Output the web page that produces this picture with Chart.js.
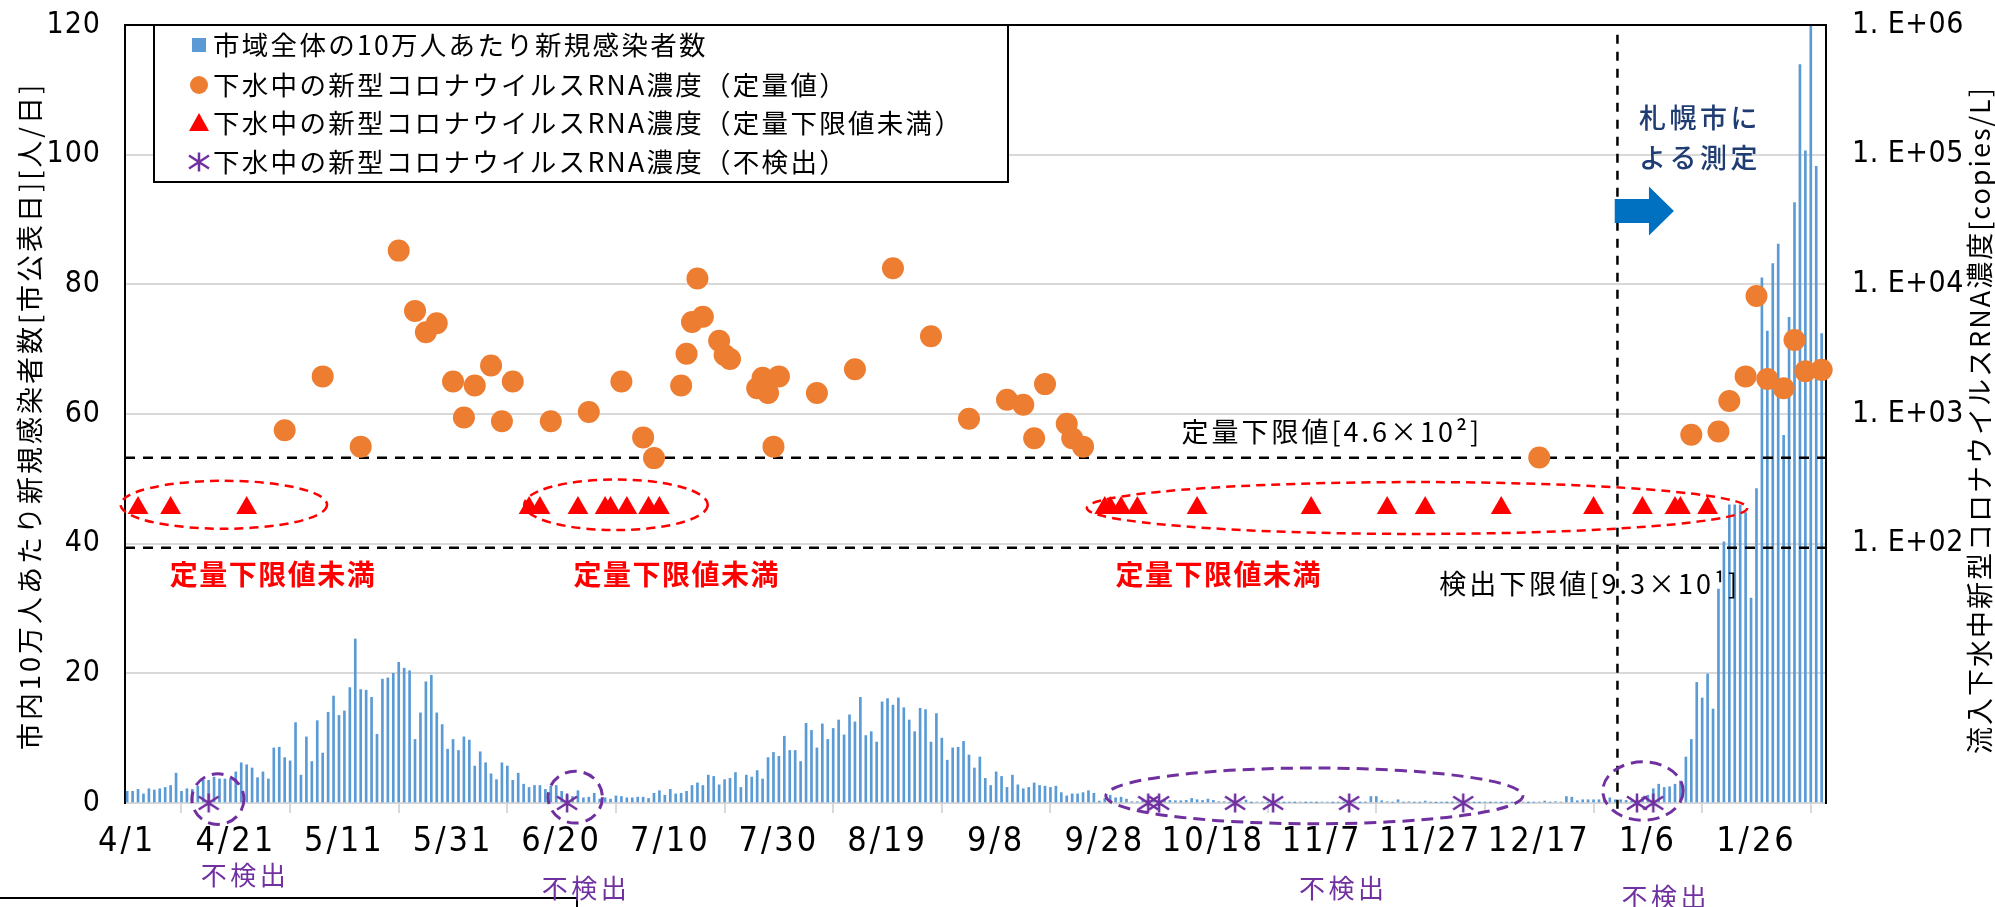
<!DOCTYPE html>
<html>
<head>
<meta charset="utf-8">
<script src="https://cdn.jsdelivr.net/npm/chart.js@4.4.1/dist/chart.umd.min.js"></script>
<style>
  html, body { margin: 0; padding: 0; background: #fff; }
  canvas { display: block; }
</style>
</head>
<body>
<canvas id="chart" width="1995" height="907"></canvas>
<script>
// ── 1. DATA ──
// day 0 = 4/1 (2021), one bar per day up to 2/8 (2022)
const tickDays   = [0, 20, 40, 60, 80, 100, 120, 140, 160, 180, 200, 220, 240, 260, 280, 300];
const tickLabels = ['4/1','4/21','5/11','5/31','6/20','7/10','7/30','8/19','9/8','9/28','10/18','11/7','11/27','12/17','1/6','1/26'];
const leftTicks  = [0, 20, 40, 60, 80, 100, 120];
const rightTicks = [1e2, 1e3, 1e4, 1e5, 1e6];
const rightTickLabels = ['1. E+02', '1. E+03', '1. E+04', '1. E+05', '1. E+06'];

// 市域全体の10万人あたり新規感染者数 (per day)
const newCases = [
  1.8, 1.8, 2.1, 1.4, 2.2, 2.0, 2.2, 2.4, 2.7, 4.6,
  1.8, 2.2, 2.1, 2.6, 3.5, 3.5, 4.0, 3.7, 3.7, 3.7,
  4.8, 6.2, 5.9, 5.4, 3.9, 4.8, 3.7, 8.5, 8.6, 7.0,
  6.5, 12.4, 4.3, 10.2, 6.4, 12.7, 7.7, 14.0, 16.5, 13.5,
  14.2, 17.8, 25.3, 17.5, 17.4, 16.3, 10.6, 19.1, 19.3, 20.0,
  21.7, 20.8, 20.4, 9.8, 13.9, 18.7, 19.7, 13.9, 12.1, 8.3,
  9.8, 8.1, 10.2, 9.7, 5.7, 7.9, 6.2, 4.5, 3.6, 6.2,
  5.7, 3.5, 4.6, 2.9, 2.4, 2.7, 2.7, 2.1, 2.6, 2.7,
  1.8, 1.2, 1.0, 1.9, 0.8, 0.9, 1.5, 0.6, 0.8, 0.6,
  1.1, 1.0, 0.8, 0.8, 0.9, 0.9, 0.7, 1.5, 1.9, 1.2,
  2.1, 1.4, 1.5, 1.8, 2.7, 3.1, 2.7, 4.3, 4.1, 2.8,
  3.6, 3.8, 4.7, 2.4, 4.3, 4.0, 5.0, 3.7, 7.0, 7.8,
  7.2, 10.3, 8.1, 8.1, 6.4, 12.3, 11.2, 8.5, 12.2, 9.8,
  11.5, 12.8, 10.5, 13.6, 12.5, 16.3, 10.4, 11.0, 9.4, 15.6,
  16.1, 15.1, 16.2, 14.7, 12.8, 11.0, 14.6, 14.4, 9.4, 13.8,
  10.0, 6.6, 8.5, 8.6, 9.5, 7.4, 5.4, 7.1, 3.8, 2.7,
  4.8, 4.1, 2.4, 4.3, 2.8, 2.2, 2.4, 3.1, 2.7, 2.6,
  2.4, 2.6, 1.6, 1.1, 1.4, 1.4, 1.6, 1.9, 1.5, 0.3,
  0.7, 1.2, 0.8, 0.9, 0.6, 0.2, 0.2, 0.4, 0.5, 0.4,
  0.3, 0.5, 0.4, 0.35, 0.35, 0.4, 0.7, 0.5, 0.4, 0.6,
  0.4, 0.2, 0.2, 0.1, 0.1, 0.15, 0.45, 0.05, 0.15, 0.15,
  0.05, 0.1, 0.1, 0.05, 0.1, 0.05, 0.15, 0.05, 0.1, 0.05,
  0.15, 0.15, 0.05, 0.1, 0.05, 0.05, 0.1, 0.05, 0.1, 1.0,
  1.0, 0.35, 0.2, 0.1, 0.5, 0.1, 0.2, 0.1, 0.1, 0.3,
  0.1, 0.05, 0.1, 0.05, 0.05, 0.1, 0.05, 0.1, 0.05, 0.05,
  0.1, 0.05, 0.1, 0.05, 0.1, 0.05, 0.1, 0.15, 0.05, 0.1,
  0.15, 0.3, 0.1, 0.2, 0.15, 1.0, 0.9, 0.35, 0.5, 0.5,
  0.5, 0.5, 0.6, 0.8, 0.5, 0.5, 0.4, 0.3, 0.5, 0.9,
  1.2, 2.2, 2.9, 2.4, 2.5, 2.9, 3.4, 7.1, 9.8, 18.6,
  16.2, 19.9, 14.5, 33.0, 40.3, 46.0, 46.0, 46.0, 44.8, 31.6,
  48.5, 81.0, 72.8, 83.2, 86.2, 56.7, 74.9, 92.6, 113.9, 100.6,
  120, 98.2, 72.4
];

// 下水中RNA濃度 (定量値) [copies/L]
const quantDays = [29, 36, 43, 50, 53, 55, 57, 60, 62, 64, 67, 69, 71, 78, 85, 91, 95, 97,
  102, 103, 104, 105, 106, 109, 110, 111, 116, 117, 118, 119, 120, 127, 134, 141, 148,
  155, 162, 165, 167, 169, 173, 174, 176, 260, 288, 293, 295, 298, 300, 302, 305, 307, 309, 312];
const quantConc = [750, 1950, 560, 18200, 6240, 4270, 5010, 1780, 940, 1660, 2370, 880, 1780, 880, 1035, 1780, 660, 457,
  1660, 2920, 5130, 11100, 5620, 3670, 2850, 2660, 1580, 1900, 1450, 560, 1950, 1450, 2210, 13300, 3980,
  920, 1290, 1180, 650, 1700, 840, 650, 560, 462, 692, 733, 1260, 1950, 8130, 1860, 1580, 3720, 2140, 2190];

// 定量下限値未満 (plotted at a fixed level)
const belowDays = [2, 8, 22, 74, 76, 83, 88, 89, 92, 96, 98,
  180, 181, 183, 186, 197, 218, 232, 239, 253, 270, 279, 285, 286, 291];
const belowLevel = 188;

// 不検出 (plotted on the axis)
const notDetDays = [15, 81, 188, 190, 204, 211, 225, 246, 278, 281];
const notDetLevel = 1;

const quantLimit = 460;   // 定量下限値
const detectLimit = 93;   // 検出下限値
const xMin = -0.4, xMax = 312.8;

const seriesLabels = [
  '市域全体の10万人あたり新規感染者数',
  '下水中の新型コロナウイルスRNA濃度（定量値）',
  '下水中の新型コロナウイルスRNA濃度（定量下限値未満）',
  '下水中の新型コロナウイルスRNA濃度（不検出）'
];

const BLUE = '#5b9bd5', ORANGE = '#ed7d31', RED = '#ff0000', PURPLE = '#7030a0', NAVY = '#1f3c73';
const JP = '"Noto Sans CJK JP", "Noto Sans", sans-serif';
const NUM = '"Liberation Sans Narrow", "DejaVu Sans Condensed", "Liberation Sans", sans-serif';

// ── 2. ASTERISK MARKER ──
function makeAsterisk(size, color, lw) {
  const c = document.createElement('canvas');
  c.width = size; c.height = size;
  const g = c.getContext('2d');
  const m = size / 2;
  g.strokeStyle = color;
  g.lineWidth = lw;
  g.beginPath();
  g.moveTo(m, m - 9.5); g.lineTo(m, m + 9.5);
  g.moveTo(m - 10, m - 6.5); g.lineTo(m + 10, m + 6.5);
  g.moveTo(m - 10, m + 6.5); g.lineTo(m + 10, m - 6.5);
  g.stroke();
  return c;
}
const asterisk = makeAsterisk(22, PURPLE, 2.5);

// ── 3. HELPERS ──
function text(ctx, str, x, y, font, color, spacing, align, rotate) {
  ctx.save();
  ctx.font = font;
  ctx.fillStyle = color;
  ctx.letterSpacing = (spacing || 0) + 'px';
  ctx.textAlign = align || 'center';
  ctx.textBaseline = 'middle';
  ctx.translate(x, y);
  if (rotate) ctx.rotate(rotate);
  ctx.fillText(str, 0, 0);
  ctx.restore();
}

// annotation shapes, in data units (day, left-axis value)
const redEllipses = [
  { day: 17.8, val: 46.0, rd: 19.0, rv: 3.7 },
  { day: 90.0, val: 46.0, rd: 16.9, rv: 3.9 },
  { day: 237.5, val: 45.5, rd: 60.8, rv: 4.0 }
];
const purpleEllipses = [
  { day: 16.7, val: 0.6, rd: 4.8, rv: 3.9 },
  { day: 82.5, val: 0.9, rd: 5.0, rv: 4.0 },
  { day: 218.6, val: 1.1, rd: 38.4, rv: 4.3 },
  { day: 279.1, val: 1.85, rd: 7.4, rv: 4.5 }
];
const redNotes = [26.85, 101.2, 201.0];
const notDetNotes = [[21.7, -11.1], [84.5, -13.1], [223.9, -13.1], [283.3, -14.5]];

const decorations = {
  id: 'decorations',
  afterDatasetsDraw(chart) {
    const { ctx, chartArea: a, scales: { x, y, y2 } } = chart;
    const px = d => x.getPixelForValue(d);
    const py = v => y.getPixelForValue(v);

    // frame top
    ctx.save();
    ctx.strokeStyle = '#000';
    ctx.lineWidth = 2;
    ctx.beginPath();
    ctx.moveTo(a.left - 1, a.top); ctx.lineTo(a.right + 1, a.top);
    ctx.stroke();

    // vertical dashed line (札幌市による測定 start)
    ctx.setLineDash([9, 8]);
    ctx.lineWidth = 2.5;
    ctx.beginPath();
    ctx.moveTo(px(274.4), py(118.5)); ctx.lineTo(px(274.4), py(-1.85));
    ctx.stroke();

    // ellipses
    const ell = (e, color, dash, lw) => {
      ctx.strokeStyle = color;
      ctx.setLineDash(dash);
      ctx.lineWidth = lw;
      ctx.beginPath();
      ctx.ellipse(px(e.day), py(e.val), px(e.day + e.rd) - px(e.day), py(e.val - e.rv) - py(e.val), 0, 0, Math.PI * 2);
      ctx.stroke();
    };
    redEllipses.forEach(e => ell(e, RED, [9, 6], 2.5));
    purpleEllipses.forEach(e => ell(e, PURPLE, [12, 7], 3));
    ctx.setLineDash([]);

    // arrow
    ctx.fillStyle = '#0070c0';
    const ay = py(91.3), bh = 12, hh = 24.5;
    ctx.beginPath();
    ctx.moveTo(px(273.9), ay - bh);
    ctx.lineTo(px(280.2), ay - bh);
    ctx.lineTo(px(280.2), ay - hh);
    ctx.lineTo(px(284.8), ay);
    ctx.lineTo(px(280.2), ay + hh);
    ctx.lineTo(px(280.2), ay + bh);
    ctx.lineTo(px(273.9), ay + bh);
    ctx.closePath();
    ctx.fill();

    // bottom-left frame fragment
    ctx.strokeStyle = '#000';
    ctx.lineWidth = 2;
    ctx.beginPath();
    ctx.moveTo(0, 898); ctx.lineTo(577, 898); ctx.lineTo(577, 907);
    ctx.stroke();
    ctx.restore();

    // notes
    text(ctx, '定量下限値[4.6×10²]', px(221.8), py(57.2), '27px ' + JP, '#000', 3);
    text(ctx, '検出下限値[9.3×10¹]', px(269.3), py(33.8), '27px ' + JP, '#000', 3);
    redNotes.forEach(d => text(ctx, '定量下限値未満', px(d), py(35.2), 'bold 28px ' + JP, RED, 1.5));
    notDetNotes.forEach(n => text(ctx, '不検出', px(n[0]), py(n[1]), '26px ' + JP, PURPLE, 3.5));
    text(ctx, '札幌市に', px(289.6), py(105.7), '500 27px ' + JP, NAVY, 3.5);
    text(ctx, 'よる測定', px(289.6), py(99.6), '500 27px ' + JP, NAVY, 3.5);

    // tick labels
    leftTicks.forEach(v => text(ctx, String(v), a.left - 24, py(v), '30px ' + NUM, '#000', 1, 'right'));
    rightTicks.forEach((v, i) => text(ctx, rightTickLabels[i], a.right + 26, y2.getPixelForValue(v), '30px ' + NUM, '#000', 0.5, 'left'));
    tickDays.forEach((d, i) => text(ctx, tickLabels[i], px(d), a.bottom + 39, '34px ' + NUM, '#000', 3));

    // axis titles
    text(ctx, '市内10万人あたり新規感染者数[市公表日][人/日]', 30, 416, '27px ' + JP, '#000', 3, 'center', -Math.PI / 2);
    text(ctx, '流入下水中新型コロナウイルスRNA濃度[copies/L]', 1980, 420, '27px ' + JP, '#000', 2, 'center', -Math.PI / 2);

    // legend box
    const lx = a.left + 29, ly = a.top, lw = 854, lh = 157;
    ctx.save();
    ctx.fillStyle = '#fff';
    ctx.fillRect(lx, ly, lw, lh);
    ctx.strokeStyle = '#000';
    ctx.lineWidth = 2;
    ctx.strokeRect(lx, ly, lw, lh);
    const mx = lx + 45, rows = [ly + 20, ly + 60, ly + 98, ly + 137];
    ctx.fillStyle = BLUE;
    ctx.fillRect(mx - 7, rows[0] - 7, 14, 14);
    ctx.fillStyle = ORANGE;
    ctx.beginPath(); ctx.arc(mx, rows[1], 9, 0, Math.PI * 2); ctx.fill();
    ctx.fillStyle = RED;
    ctx.beginPath();
    ctx.moveTo(mx, rows[2] - 10); ctx.lineTo(mx + 10, rows[2] + 8); ctx.lineTo(mx - 10, rows[2] + 8);
    ctx.closePath(); ctx.fill();
    ctx.drawImage(asterisk, mx - 11, rows[3] - 11);
    ctx.restore();
    seriesLabels.forEach((s, i) => text(ctx, s, mx + 14, rows[i], '26.5px ' + JP, '#000', 2.3, 'left'));
  }
};

// ── 4. CHART ──
new Chart(document.getElementById('chart'), {
  type: 'bar',
  data: {
    datasets: [
      {
        label: seriesLabels[0],
        data: newCases.map((v, i) => ({ x: i, y: v })),
        backgroundColor: BLUE,
        barThickness: 2,
        yAxisID: 'y',
        order: 5
      },
      {
        type: 'line', label: seriesLabels[1],
        data: quantDays.map((d, i) => ({ x: d, y: quantConc[i] })),
        yAxisID: 'y2', showLine: false, clip: false,
        pointRadius: 11, pointBorderWidth: 0,
        pointBackgroundColor: ORANGE, pointBorderColor: ORANGE, order: 1
      },
      {
        type: 'line', label: seriesLabels[2],
        data: belowDays.map(d => ({ x: d, y: belowLevel })),
        yAxisID: 'y2', showLine: false, clip: false,
        pointStyle: 'triangle', pointRadius: 12, pointBorderWidth: 0,
        pointBackgroundColor: RED, pointBorderColor: RED, order: 2
      },
      {
        type: 'line', label: seriesLabels[3],
        data: notDetDays.map(d => ({ x: d, y: notDetLevel })),
        yAxisID: 'y2', showLine: false, clip: false,
        pointStyle: asterisk, pointRadius: 10, order: 0
      },
      {
        type: 'line', label: '定量下限値',
        data: [{ x: xMin, y: quantLimit }, { x: xMax, y: quantLimit }],
        yAxisID: 'y2', borderColor: '#000', borderWidth: 2.5, borderDash: [10, 8],
        pointRadius: 0, order: 3
      },
      {
        type: 'line', label: '検出下限値',
        data: [{ x: xMin, y: detectLimit }, { x: xMax, y: detectLimit }],
        yAxisID: 'y2', borderColor: '#000', borderWidth: 2.5, borderDash: [10, 8],
        pointRadius: 0, order: 3
      }
    ]
  },
  options: {
    responsive: false,
    animation: false,
    devicePixelRatio: 1,
    layout: { padding: { top: 25, left: 0, right: 0, bottom: 0 } },
    plugins: { legend: { display: false }, tooltip: { enabled: false } },
    scales: {
      x: {
        type: 'linear', min: xMin, max: xMax, offset: false,
        afterBuildTicks: s => { s.ticks = tickDays.map(v => ({ value: v })); },
        ticks: { display: false },
        grid: { drawOnChartArea: false, drawTicks: true, tickLength: 10, color: '#d9d9d9', lineWidth: 2 },
        border: { color: '#d9d9d9', width: 2 },
        afterFit: s => { s.height = 104; }
      },
      y: {
        position: 'left', min: 0, max: 120,
        afterBuildTicks: s => { s.ticks = leftTicks.map(v => ({ value: v })); },
        ticks: { display: false },
        grid: { color: '#d9d9d9', lineWidth: 2, drawTicks: false },
        border: { color: '#000', width: 2 },
        afterFit: s => { s.width = 125; }
      },
      y2: {
        type: 'logarithmic', position: 'right', min: 1, max: 1e6,
        afterBuildTicks: s => { s.ticks = rightTicks.map(v => ({ value: v })); },
        ticks: { display: false },
        grid: { display: false, drawTicks: false },
        border: { color: '#000', width: 2 },
        afterFit: s => { s.width = 169; }
      }
    }
  },
  plugins: [decorations]
});
</script>
</body>
</html>
